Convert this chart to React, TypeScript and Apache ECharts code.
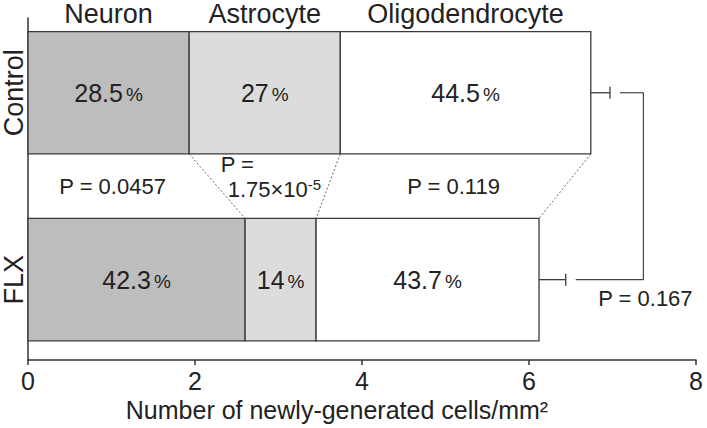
import React, { useEffect, useRef } from 'react';
import * as echarts from 'echarts';

// ---- data ----
const categories = ['Control', 'FLX'];
const cellTypes = ['Neuron', 'Astrocyte', 'Oligodendrocyte'];
const neuron = [1.93, 2.6];
const astrocyte = [1.81, 0.85];
const oligodendrocyte = [3.0, 2.67];
const neuronPct = ['28.5', '42.3'];
const astrocytePct = ['27', '14'];
const oligodendrocytePct = ['44.5', '43.7'];
const sem = [0.23, 0.32];
const segmentP = [['P = 0.0457'], ['P =', '1.75×10{sup|-5}'], ['P = 0.119']];
const totalP = 'P = 0.167';
const xMin = 0;
const xMax = 8;
const xInterval = 2;

const FONT = 'Liberation Sans, Arial, Helvetica, sans-serif';
const TEXT = '#222222';
const STROKE = '#3a3a3a';
const fills = ['#bdbdbd', '#dcdcdc', '#ffffff'];
const BAR_H = 0.655;
const pNudge = [-10, 0, 7];

export default function App() {
  const ref = useRef<HTMLDivElement>(null);

  useEffect(() => {
    document.body.style.margin = '0';
    if (!ref.current) return;
    const chart = echarts.init(ref.current, undefined, { renderer: 'svg' });

    const values = [neuron, astrocyte, oligodendrocyte];
    const pcts = [neuronPct, astrocytePct, oligodendrocytePct];
    const catY = (i: number) => categories.length - 1 - i;

    const cum = categories.map((_, i) => {
      const arr = [0];
      values.forEach((v) => arr.push(arr[arr.length - 1] + v[i]));
      return arr;
    });
    const totals = cum.map((c) => c[c.length - 1]);
    const errEnds = totals.map((t, i) => t + sem[i]);

    const barSeries = cellTypes.map((name, t) => ({
      type: 'custom',
      name,
      encode: { x: [0, 1], y: 2 },
      data: categories.map((_, i) => [cum[i][t], cum[i][t + 1], catY(i)]),
      renderItem: (params: any, api: any) => {
        const i = params.dataIndex;
        const y = catY(i);
        const p0 = api.coord([cum[i][t], y]);
        const p1 = api.coord([cum[i][t + 1], y]);
        const h = api.size([0, BAR_H])[1];
        const children: any[] = [
          {
            type: 'rect',
            shape: { x: p0[0], y: p0[1] - h / 2, width: p1[0] - p0[0], height: h },
            style: { fill: fills[t], stroke: STROKE, lineWidth: 1.3 },
          },
          {
            type: 'text',
            x: (p0[0] + p1[0]) / 2,
            y: p0[1],
            style: {
              text: `{n|${pcts[t][i]}}{p|%}`,
              align: 'center',
              verticalAlign: 'middle',
              rich: {
                n: { fontSize: 25, fontFamily: FONT, fill: TEXT, verticalAlign: 'bottom' },
                p: { fontSize: 19, fontFamily: FONT, fill: TEXT, verticalAlign: 'bottom', padding: [0, 0, 1, 3] },
              },
            },
          },
        ];
        if (i === 0) {
          children.push({
            type: 'text',
            x: (p0[0] + p1[0]) / 2,
            y: p0[1] - h / 2 - 18,
            style: {
              text: name,
              align: 'center',
              verticalAlign: 'middle',
              fontSize: 27,
              lineHeight: 27,
              fontFamily: FONT,
              fill: TEXT,
            },
          });
        }
        return { type: 'group', children };
      },
    }));

    const categoryLabelSeries = {
      type: 'custom',
      name: 'categoryLabels',
      encode: { x: 0, y: 1 },
      data: categories.map((_, i) => [xMin, catY(i)]),
      renderItem: (params: any, api: any) => {
        const p = api.coord([xMin, catY(params.dataIndex)]);
        return {
          type: 'text',
          x: p[0] - 14,
          y: p[1],
          rotation: Math.PI / 2,
          style: {
            text: categories[params.dataIndex],
            align: 'center',
            verticalAlign: 'middle',
            fontSize: 27,
            lineHeight: 26,
            fontFamily: FONT,
            fill: TEXT,
          },
        };
      },
    };

    const errorSeries = {
      type: 'custom',
      name: 'SEM',
      encode: { x: [0, 1], y: 2 },
      data: categories.map((_, i) => [totals[i], errEnds[i], catY(i)]),
      renderItem: (params: any, api: any) => {
        const i = params.dataIndex;
        const a = api.coord([totals[i], catY(i)]);
        const b = api.coord([errEnds[i], catY(i)]);
        const s = { stroke: STROKE, lineWidth: 1.3 };
        return {
          type: 'group',
          children: [
            { type: 'line', shape: { x1: a[0], y1: a[1], x2: b[0], y2: b[1] }, style: s },
            { type: 'line', shape: { x1: b[0], y1: b[1] - 6, x2: b[0], y2: b[1] + 6 }, style: s },
          ],
        };
      },
    };

    const connectorSeries = {
      type: 'custom',
      name: 'connectors',
      encode: { x: [0, 1] },
      data: [1, 2, 3].map((k) => [cum[0][k], cum[1][k]]),
      renderItem: (params: any, api: any) => {
        const k = params.dataIndex + 1;
        const h = api.size([0, BAR_H])[1];
        const a = api.coord([cum[0][k], catY(0)]);
        const b = api.coord([cum[1][k], catY(1)]);
        return {
          type: 'line',
          shape: { x1: a[0], y1: a[1] + h / 2, x2: b[0], y2: b[1] - h / 2 },
          style: { stroke: '#666', lineWidth: 1, lineDash: [2, 2] },
        };
      },
    };

    const pMid = cellTypes.map(
      (_, t) => ((cum[0][t] + cum[0][t + 1]) / 2 + (cum[1][t] + cum[1][t + 1]) / 2) / 2
    );
    const midY = (catY(0) + catY(1)) / 2;

    const pLabelSeries = {
      type: 'custom',
      name: 'pSegments',
      encode: { x: 0, y: 1 },
      data: pMid.map((m) => [m, midY]),
      renderItem: (params: any, api: any) => {
        const t = params.dataIndex;
        const p = api.coord([pMid[t], midY]);
        const lines = segmentP[t];
        const base = {
          fontSize: 22,
          fontFamily: FONT,
          fill: TEXT,
          verticalAlign: 'middle',
          rich: {
            sup: { fontSize: 15, fontFamily: FONT, fill: TEXT, verticalAlign: 'top', lineHeight: 25 },
          },
        };
        if (lines.length === 1) {
          return {
            type: 'text',
            x: p[0] + pNudge[t],
            y: p[1],
            style: { ...base, text: lines[0], align: 'center' },
          };
        }
        return {
          type: 'group',
          children: [
            {
              type: 'text',
              x: p[0] - 52,
              y: p[1] - 22,
              style: { ...base, text: lines[0], align: 'left' },
            },
            {
              type: 'text',
              x: p[0] - 45,
              y: p[1] + 3,
              style: { ...base, text: lines[1], align: 'left', lineHeight: 25 },
            },
          ],
        };
      },
    };

    const bracketX = Math.max(...errEnds) + 0.4;
    const bracketStart = errEnds.map((e) => e + 0.12);

    const bracketSeries = {
      type: 'custom',
      name: 'bracket',
      encode: { x: 0, y: 1 },
      data: [[bracketX, midY]],
      renderItem: (params: any, api: any) => {
        const a = api.coord([bracketStart[0], catY(0)]);
        const c1 = api.coord([bracketX, catY(0)]);
        const c2 = api.coord([bracketX, catY(1)]);
        const b = api.coord([bracketStart[1], catY(1)]);
        const s = { stroke: '#444', lineWidth: 1.2 };
        return {
          type: 'group',
          children: [
            { type: 'line', shape: { x1: a[0], y1: a[1], x2: c1[0], y2: c1[1] }, style: s },
            { type: 'line', shape: { x1: c1[0], y1: c1[1], x2: c2[0], y2: c2[1] }, style: s },
            { type: 'line', shape: { x1: c2[0], y1: c2[1], x2: b[0], y2: b[1] }, style: s },
            {
              type: 'text',
              x: c2[0] + 2,
              y: c2[1] + 19,
              style: {
                text: totalP,
                align: 'center',
                verticalAlign: 'middle',
                fontSize: 22,
                fontFamily: FONT,
                fill: TEXT,
              },
            },
          ],
        };
      },
    };

    chart.setOption({
      animation: false,
      grid: { left: 28, right: 11, top: 18, bottom: 68 },
      xAxis: {
        type: 'value',
        min: xMin,
        max: xMax,
        interval: xInterval,
        splitLine: { show: false },
        axisLine: { show: true, onZero: false, lineStyle: { color: '#333', width: 1.5 } },
        axisTick: { show: true, length: 5, lineStyle: { color: '#333', width: 1.5 } },
        axisLabel: { fontSize: 25, color: TEXT, fontFamily: FONT, margin: 8 },
        name: 'Number of newly-generated cells/mm²',
        nameLocation: 'middle',
        nameGap: 37,
        nameTextStyle: { fontSize: 25, color: TEXT, fontFamily: FONT, padding: [0, 50, 0, 0] },
      },
      yAxis: {
        type: 'value',
        min: -0.43,
        max: 1.4,
        splitLine: { show: false },
        axisLine: { show: true, onZero: false, lineStyle: { color: '#333', width: 1.5 } },
        axisTick: { show: false },
        axisLabel: { show: false },
      },
      series: [
        ...barSeries,
        connectorSeries,
        errorSeries,
        bracketSeries,
        pLabelSeries,
        categoryLabelSeries,
      ],
    });

    return () => chart.dispose();
  }, []);

  return <div ref={ref} style={{ width: 707, height: 428 }} />;
}
